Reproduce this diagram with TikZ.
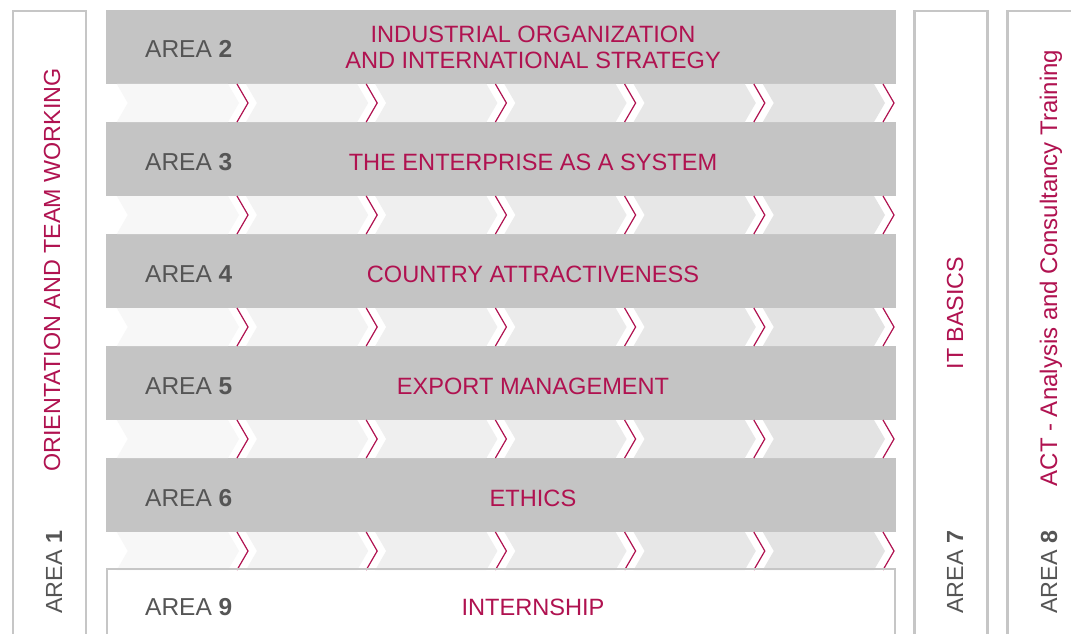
\documentclass[tikz,border=0pt]{standalone}
\usepackage{fontspec}
\setmainfont{Liberation Sans}
\definecolor{crim}{HTML}{B01250}
\definecolor{band}{HTML}{C4C4C4}
\definecolor{frame}{HTML}{C6C6C6}
\definecolor{txt}{HTML}{555555}
\definecolor{seg0}{HTML}{F7F7F7}
\definecolor{seg1}{HTML}{F3F3F3}
\definecolor{seg2}{HTML}{EFEFEF}
\definecolor{seg3}{HTML}{EBEBEB}
\definecolor{seg4}{HTML}{E7E7E7}
\definecolor{seg5}{HTML}{E3E3E3}
\begin{document}
\begin{tikzpicture}[x=1pt,y=-1pt,
  framebox/.style={draw=frame,line width=2.4pt},
  bandbox/.style={fill=band},
  arealabel/.style={font=\fontsize{24.5}{28}\selectfont, text=txt, anchor=base west, inner sep=0pt},
  titlelabel/.style={font=\fontsize{23.6}{27}\selectfont, text=crim, anchor=base, inner sep=0pt},
  vtitle/.style={font=\fontsize{23.3}{27}\selectfont, text=crim, anchor=base, inner sep=0pt, rotate=90},
  varea/.style={font=\fontsize{23.3}{27}\selectfont, text=txt, anchor=base west, inner sep=0pt, rotate=90},
  chev/.style={draw=crim, line width=1.2pt},
]
\useasboundingbox (0,0) rectangle (1071,634);
\fill[white] (0,0) rectangle (1071,634);

% grey bands
\foreach \k in {0,...,4}{
  \fill[bandbox] (106,10+112*\k) rectangle (896,84+112*\k);
}
% chevron strips
\foreach \k in {0,...,4}{
  \pgfmathsetmacro\yt{84+112*\k}
  \pgfmathsetmacro\yb{122+112*\k}
  \pgfmathsetmacro\ym{(\yt+\yb)/2}
  \foreach \s in {0,...,5}{
    \pgfmathsetmacro\L{237+129.2*(\s-1)+9}
    \pgfmathsetmacro\R{237+129.2*\s-9}
    \fill[seg\s] (\L,\yt) -- (\R,\yt) -- (\R+11,\ym) -- (\R,\yb) -- (\L,\yb) -- (\L+11,\ym) -- cycle;
    \pgfmathsetmacro\C{237+129.2*\s}
    \draw[chev] (\C,\yt) -- (\C+11,\ym) -- (\C,\yb);
  }
}

% frames
\draw[framebox] (13,634) -- (13,11.2) -- (86,11.2) -- (86,634);
\draw[framebox] (914.5,634) -- (914.5,11.2) -- (987.5,11.2) -- (987.5,634);
\draw[framebox] (1007.5,634) -- (1007.5,11.2) -- (1075,11.2);
\draw[framebox] (107.2,634) -- (107.2,569) -- (894.8,569) -- (894.8,634);

% horizontal labels
\node[arealabel] (a2) at (145,58) {AREA \textbf{2}};
\node[titlelabel] (t2a) at (533,43) {INDUSTRIAL ORGANIZATION};
\node[titlelabel] (t2b) at (533,69) {AND INTERNATIONAL STRATEGY};
\node[arealabel] (a3) at (145,170) {AREA \textbf{3}};
\node[titlelabel] (t3) at (533,170) {THE ENTERPRISE AS A SYSTEM};
\node[arealabel] (a4) at (145,282) {AREA \textbf{4}};
\node[titlelabel] (t4) at (533,282) {COUNTRY ATTRACTIVENESS};
\node[arealabel] (a5) at (145,394) {AREA \textbf{5}};
\node[titlelabel] (t5) at (533,394) {EXPORT MANAGEMENT};
\node[arealabel] (a6) at (145,506) {AREA \textbf{6}};
\node[titlelabel] (t6) at (533,506) {ETHICS};
\node[arealabel] (a9) at (145,615) {AREA \textbf{9}};
\node[titlelabel] (t9) at (533,615) {INTERNSHIP};

% vertical labels
\node[varea] (a1) at (62,614) {AREA \textbf{1}};
\node[vtitle] (t1) at (60,270) {ORIENTATION AND TEAM WORKING};
\node[varea] (a7) at (963,614) {AREA \textbf{7}};
\node[vtitle] (t7) at (963,313) {IT BASICS};
\node[varea] (a8) at (1057,614) {AREA \textbf{8}};
\node[vtitle] (t8) at (1057,268) {\fontsize{24}{27}\selectfont ACT - Analysis and Consultancy Training};
\end{tikzpicture}
\end{document}
